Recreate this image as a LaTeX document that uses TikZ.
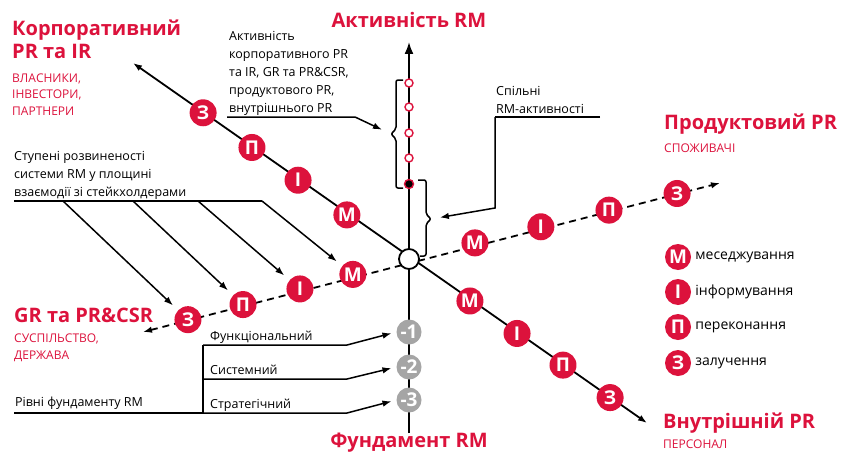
\documentclass[tikz,border=0pt]{standalone}
\usepackage{fontspec}
\setmainfont{Open Sans}
\usetikzlibrary{calc,arrows.meta}
\definecolor{rmred}{RGB}{220,18,60}
\definecolor{rmgray}{RGB}{165,165,165}

\begin{document}
\begin{tikzpicture}[x=1pt,y=-1pt,
	stage/.style={circle,fill=rmred,text=white,font=\bfseries\fontsize{19}{19}\selectfont,inner sep=0pt,minimum size=27pt},
	level/.style={circle,fill=rmgray,text=white,font=\bfseries\fontsize{19}{19}\selectfont,inner sep=0pt,minimum size=25pt},
	act/.style={circle,draw=rmred,fill=white,line width=1.4pt,inner sep=0pt,minimum size=8pt},
	title/.style={text=rmred,font=\bfseries\fontsize{20}{23}\selectfont,anchor=base west,align=left,inner sep=0pt},
	group/.style={text=rmred,font=\fontsize{12}{16.5}\selectfont,anchor=base west,align=left,inner sep=0pt},
	note/.style={font=\fontsize{12.5}{18}\selectfont,anchor=base west,align=left,inner sep=0pt},
	axis/.style={line width=1.8pt},
	lead/.style={line width=1.5pt},
	tip/.tip={Latex[length=9pt,width=6.5pt]},
	bigtip/.tip={Latex[length=12pt,width=9pt]}]
	
	\useasboundingbox (0,0) rectangle (842,452);
	
	% axes
	\coordinate (top) at (409,42);
	\coordinate (bot) at (409,433);
	\coordinate (nw) at (133,63);
	\coordinate (se) at (647,423);
	\coordinate (sw) at (143,332);
	\coordinate (ne) at (720,183);
	\draw[axis,-bigtip] (bot) -- (top);
	\draw[axis,tip-tip] (nw) -- (se);
	\draw[axis,tip-tip,dash pattern=on 7pt off 5pt] (sw) -- (ne);
	
	\node[circle,draw,fill=white,line width=1.8pt,minimum size=20pt,inner sep=0pt] (O) at (409,259) {};
	
	% stages on the four arms
	\node[stage] (nwM) at ($(O)!0.225!(nw)$) {М};
	\node[stage] (nwI) at ($(O)!0.402!(nw)$) {І};
	\node[stage] (nwP) at ($(O)!0.569!(nw)$) {П};
	\node[stage] (nwZ) at ($(O)!0.746!(nw)$) {З};
	\node[stage] (seM) at ($(O)!0.256!(se)$) {М};
	\node[stage] (seI) at ($(O)!0.454!(se)$) {І};
	\node[stage] (seP) at ($(O)!0.647!(se)$) {П};
	\node[stage] (seZ) at ($(O)!0.845!(se)$) {З};
	\node[stage] (swM) at ($(O)!0.211!(sw)$) {М};
	\node[stage] (swI) at ($(O)!0.410!(sw)$) {І};
	\node[stage] (swP) at ($(O)!0.624!(sw)$) {П};
	\node[stage] (swZ) at ($(O)!0.831!(sw)$) {З};
	\node[stage] (neM) at ($(O)!0.212!(ne)$) {М};
	\node[stage] (neI) at ($(O)!0.424!(ne)$) {І};
	\node[stage] (neP) at ($(O)!0.643!(ne)$) {П};
	\node[stage] (neZ) at ($(O)!0.862!(ne)$) {З};
	
	% activities
	\node[act] (a1) at (409,83) {};
	\node[act] (a2) at (409,107) {};
	\node[act] (a3) at (409,133) {};
	\node[act] (a4) at (409,158) {};
	\node[act,fill=black,minimum size=9pt] (a5) at (409,184) {};
	\draw[lead,rounded corners=2pt] (403,80) -- (396,80) -- (396,129) -- (391,134) -- (396,139) -- (396,188) -- (403,188); % left brace
	\draw[lead,rounded corners=2pt] (418,180) -- (426,180) -- (426,214) -- (431,219) -- (426,224) -- (426,256) -- (420,256); % right brace
	\coordinate (bl) at (391,134);
	\coordinate (br) at (431,219);
	
	% foundation
	\node[level] (lv1) at (409,332) {-1};
	\node[level] (lv2) at (409,367) {-2};
	\node[level] (lv3) at (409,400) {-3};
	
	% titles
	\node[title,anchor=base] (actT) at (409,28) {Активність RM};
	\node[title,anchor=base] (fndT) at (409,447) {Фундамент RM};
	\node[title] (corpT) at (12,59) {Корпоративний\\PR та IR};
	\node[group] (corpG) at (12,115) {ВЛАСНИКИ,\\ІНВЕСТОРИ,\\ПАРТНЕРИ};
	\node[title] (prodT) at (664,129) {Продуктовий PR};
	\node[group] (prodG) at (664,152) {СПОЖИВАЧІ};
	\node[title] (gsT) at (14,322) {GR та PR\&CSR};
	\node[group] (gsG) at (14,359) {СУСПІЛЬСТВО,\\ДЕРЖАВА};
	\node[title] (intT) at (663,428) {Внутрішній PR};
	\node[group] (intG) at (663,448) {ПЕРСОНАЛ};
	
	% notes
	\node[note] (actN) at (229,112) {Активність\\корпоративного PR\\та IR, GR та PR\&CSR,\\продуктового PR,\\внутрішнього PR};
	\draw[lead,-tip,shorten >=10pt] (227,117) -- (355,117) -- (bl);
	\node[note] (jntN) at (496,113) {Спільні\\RM-активності};
	\draw[lead] (600,117) -- (495,117);
	\draw[lead,-tip,shorten >=9pt] (495,117) -- (495,208) -- (br);
	
	\node[note] (stpN) at (14,196) {Ступені розвиненості\\системи RM у площині\\взаємодії зі стейкхолдерами};
	\draw[lead] (14,201) -- (262,201);
	\draw[lead,-tip,shorten >=7pt] (63,201) -- (swZ);
	\draw[lead,-tip,shorten >=7pt] (133,201) -- (swP);
	\draw[lead,-tip,shorten >=7pt] (198,201) -- (swI);
	\draw[lead,-tip,shorten >=7pt] (262,201) -- (swM);
	
	\node[note] (bseN) at (15,406) {Рівні фундаменту RM};
	\node[note] (lvN1) at (210,340) {Функціональний};
	\node[note] (lvN2) at (210,374) {Системний};
	\node[note] (lvN3) at (210,408) {Стратегічний};
	\draw[lead] (14,413) -- (203,413);
	\draw[lead] (203,413) -- (203,345);
	\draw[lead,-tip,shorten >=5pt] (203,345) -- (347,345) -- (lv1.west);
	\draw[lead,-tip,shorten >=5pt] (203,379) -- (347,379) -- (lv2.west);
	\draw[lead,-tip,shorten >=5pt] (203,413) -- (347,413) -- (lv3.west);
	
	% legend
	\foreach \y/\l/\t [count=\i] in {257/М/меседжування,292/І/інформування,327/П/переконання,363/З/залучення}{
		\node[stage,minimum size=26pt] (lg\i) at (678,\y) {\l};
		\node[anchor=west,inner sep=0pt,font=\fontsize{14}{14}\selectfont] (lgT\i) at ($(lg\i.east)+(4,0)$) {\t};
	}
	
\end{tikzpicture}
\end{document}
